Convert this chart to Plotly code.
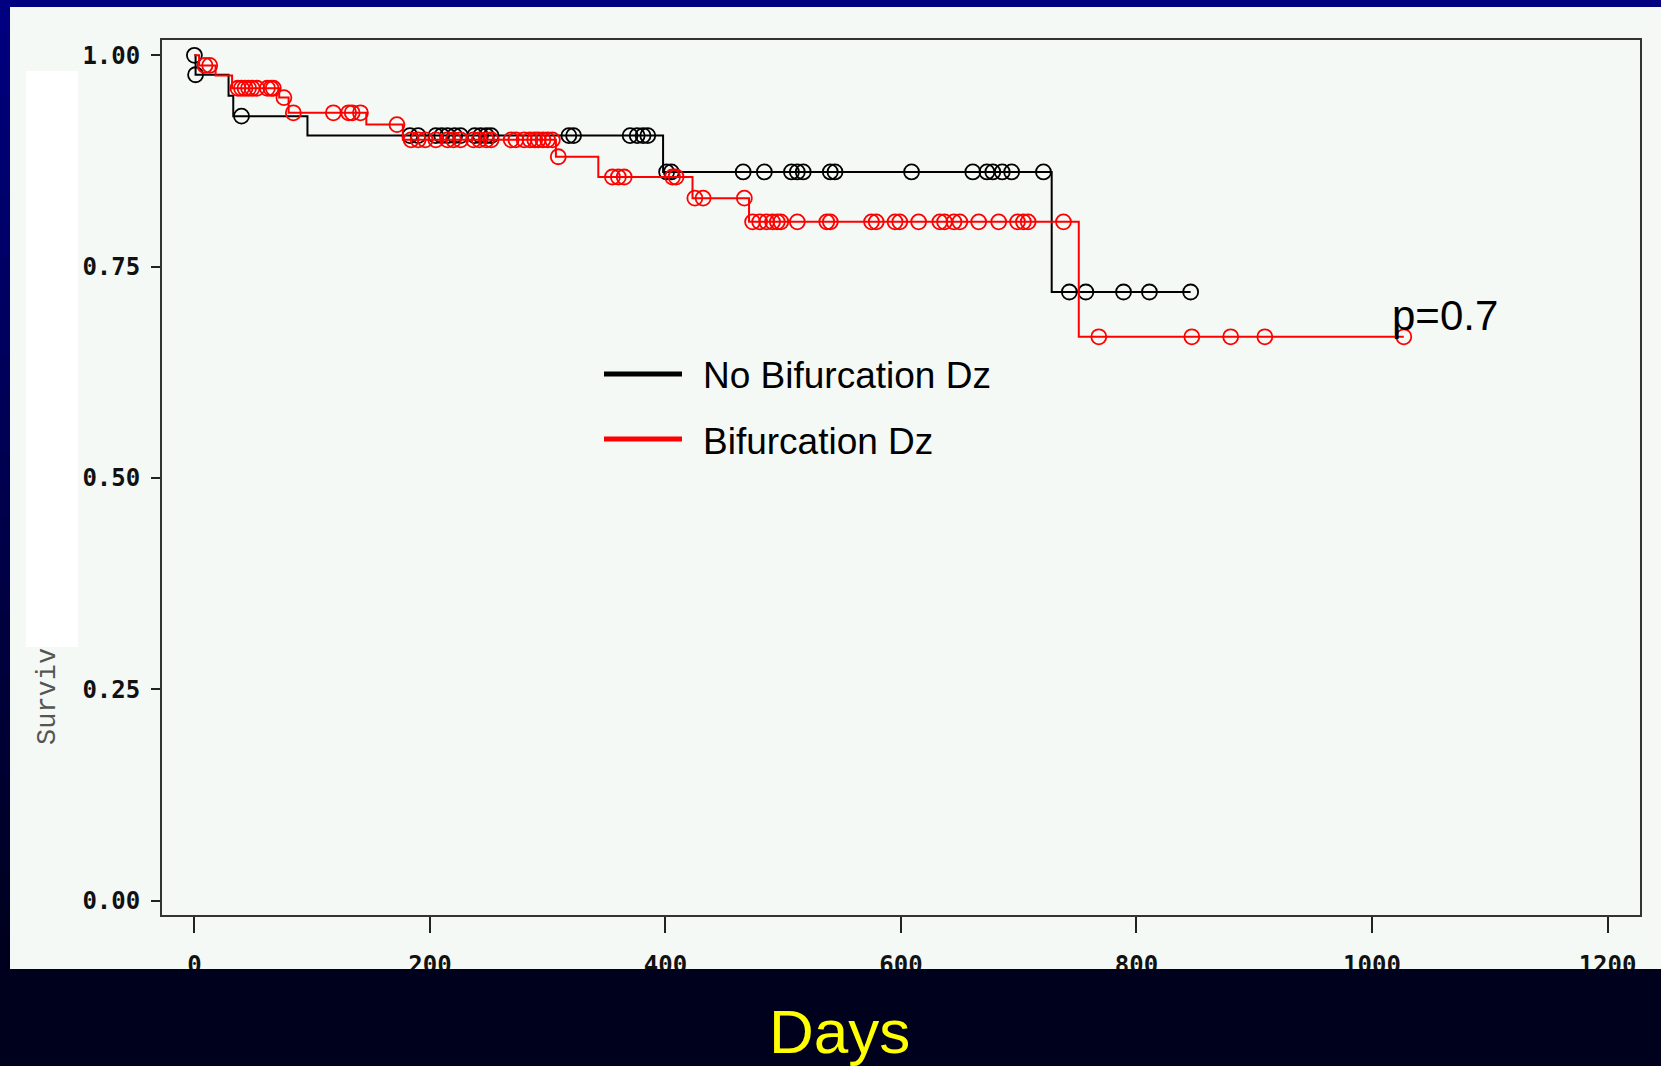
import plotly.graph_objects as go

W, H = 1661, 1066

# ---------------- data ----------------
black_name = "No Bifurcation Dz"
black_event_days = [1, 29, 33, 96, 398, 728]
black_event_surv = [0.977, 0.952, 0.928, 0.905, 0.862, 0.720]
black_censor_days = [0, 1, 40, 183, 190, 205, 210, 215, 221, 226, 238, 243, 248, 252,
                     318, 322, 370, 376, 381, 385, 401, 405, 466, 484, 507, 512, 517,
                     540, 544, 609, 661, 673, 678, 686, 694, 721, 743, 757, 789, 811, 846]
black_last_day = 846

red_name = "Bifurcation Dz"
red_event_days = [4, 18, 32, 72, 80, 146, 177, 307, 343, 423, 471, 751]
red_event_surv = [0.988, 0.976, 0.961, 0.950, 0.932, 0.918, 0.900, 0.880, 0.856, 0.831, 0.803, 0.667]
red_censor_days = [9, 13, 37, 40, 43, 46, 49, 53, 62, 65, 67, 76, 84, 118, 131, 134, 141, 172,
                   184, 190, 196, 205, 215, 220, 226, 237, 242, 248, 252, 269, 273, 280, 285,
                   289, 292, 296, 300, 304, 309, 355, 360, 365, 406, 409, 425, 432, 467, 474,
                   480, 486, 491, 495, 498, 512, 537, 540, 575, 579, 595, 599, 615, 633, 637,
                   645, 650, 666, 683, 699, 704, 708, 738, 768, 847, 880, 909, 1027]
red_last_day = 1027

x_tick_vals = [0, 200, 400, 600, 800, 1000, 1200]
y_tick_vals = [0.0, 0.25, 0.50, 0.75, 1.00]
y_tick_text = ["0.00", "0.25", "0.50", "0.75", "1.00"]

x_title = "Days"
y_title_visible = "Surviv"
p_text = "p=0.7"


def surv_at(t, days, surv):
    s = 1.0
    for d, v in zip(days, surv):
        if d <= t:
            s = v
    return s


def step_xy(days, surv, last):
    xs = [0] + list(days) + [last]
    ys = [1.0] + list(surv) + [surv[-1]]
    return xs, ys


fig = go.Figure()

for name, color, ev_d, ev_s, cens, last in [
    (black_name, "#000000", black_event_days, black_event_surv, black_censor_days, black_last_day),
    (red_name, "#FF0000", red_event_days, red_event_surv, red_censor_days, red_last_day),
]:
    sx, sy = step_xy(ev_d, ev_s, last)
    fig.add_trace(go.Scatter(x=sx, y=sy, mode="lines", line=dict(color=color, width=2, shape="hv"),
                             name=name, showlegend=False, hoverinfo="skip"))
    fig.add_trace(go.Scatter(x=cens, y=[surv_at(t, ev_d, ev_s) for t in cens], mode="markers",
                             marker=dict(symbol="circle-open", size=15, color=color,
                                         line=dict(color=color, width=1.8)),
                             name=name, showlegend=False))

# ---------------- geometry (pixels) ----------------
px_left, px_right, px_top, px_bottom = 162, 1640, 40, 915
x0_px, px_per_day = 194.4, 1.1776
y0_px, px_per_unit = 900.6, 845.3

x_range = [(px_left - x0_px) / px_per_day, (px_right - x0_px) / px_per_day]
y_range = [(y0_px - px_bottom) / px_per_unit, (y0_px - px_top) / px_per_unit]

panel = "#F4F9F6"
tickfont = dict(family="DejaVu Sans Mono", size=24, color="#111111", weight="bold")

fig.update_layout(
    width=W, height=H, autosize=False,
    margin=dict(l=0, r=0, t=0, b=0),
    paper_bgcolor=panel, plot_bgcolor=panel,
    showlegend=False,
    xaxis=dict(domain=[px_left / W, px_right / W], range=x_range, tickvals=x_tick_vals,
               ticks="outside", ticklen=16, tickwidth=2, tickcolor="#222222",
               showline=True, linecolor="#333333", linewidth=2, mirror=True,
               showgrid=False, zeroline=False, tickfont=tickfont, ticklabelstandoff=11),
    yaxis=dict(domain=[1 - px_bottom / H, 1 - px_top / H], range=y_range,
               tickvals=y_tick_vals, ticktext=y_tick_text,
               ticks="outside", ticklen=9, tickwidth=2, tickcolor="#222222",
               showline=True, linecolor="#333333", linewidth=2, mirror=True,
               showgrid=False, zeroline=False, tickfont=tickfont, ticklabelstandoff=6),
)

shapes = []
# dark slide background strips
shapes.append(dict(type="rect", xref="paper", yref="paper", x0=0, x1=1, y0=1 - 7 / H, y1=1,
                   fillcolor="#000080", line=dict(width=0), layer="above"))
shapes.append(dict(type="rect", xref="paper", yref="paper", x0=0, x1=1, y0=0, y1=1 - 969 / H,
                   fillcolor="#00011C", line=dict(width=0), layer="above"))
nseg = 30
for i in range(nseg):
    ya, yb = i * 969 / nseg, (i + 1) * 969 / nseg + 2
    f = i / (nseg - 1)
    b = int(128 - f * 98)
    shapes.append(dict(type="rect", xref="paper", yref="paper", x0=0, x1=10 / W,
                       y0=1 - yb / H, y1=1 - ya / H, fillcolor=f"rgb(0,0,{b})",
                       line=dict(width=0), layer="above"))
# white box over the y-axis title area
shapes.append(dict(type="rect", xref="paper", yref="paper", x0=26 / W, x1=78 / W,
                   y0=1 - 647 / H, y1=1 - 71 / H, fillcolor="#FFFFFF", line=dict(width=0),
                   layer="below"))
# legend key lines
shapes.append(dict(type="line", xref="paper", yref="paper", x0=604 / W, x1=682 / W,
                   y0=1 - 374 / H, y1=1 - 374 / H, line=dict(color="#000000", width=5)))
shapes.append(dict(type="line", xref="paper", yref="paper", x0=604 / W, x1=682 / W,
                   y0=1 - 439 / H, y1=1 - 439 / H, line=dict(color="#FF0000", width=5)))
fig.update_layout(shapes=shapes)

ann = []
ann.append(dict(text=black_name, xref="paper", yref="paper", x=701 / W, y=1 - 376 / H,
                xanchor="left", yanchor="middle", showarrow=False,
                font=dict(family="Liberation Sans", size=37, color="#000000")))
ann.append(dict(text=red_name, xref="paper", yref="paper", x=701 / W, y=1 - 441 / H,
                xanchor="left", yanchor="middle", showarrow=False,
                font=dict(family="Liberation Sans", size=37, color="#000000")))
ann.append(dict(text=p_text, xref="paper", yref="paper", x=1390 / W, y=1 - 316 / H,
                xanchor="left", yanchor="middle", showarrow=False,
                font=dict(family="Liberation Sans", size=42, color="#000000")))
ann.append(dict(text=x_title, xref="paper", yref="paper", x=839 / W, y=1 - 1031 / H,
                xanchor="center", yanchor="middle", showarrow=False,
                font=dict(family="Liberation Sans", size=62, color="#FFFF00")))
ann.append(dict(text=y_title_visible, xref="paper", yref="paper", x=48 / W, y=1 - 697 / H,
                xanchor="center", yanchor="middle", showarrow=False, textangle=-90,
                font=dict(family="Liberation Mono", size=27, color="#555555")))
fig.update_layout(annotations=ann)

fig.write_html("out.html")
